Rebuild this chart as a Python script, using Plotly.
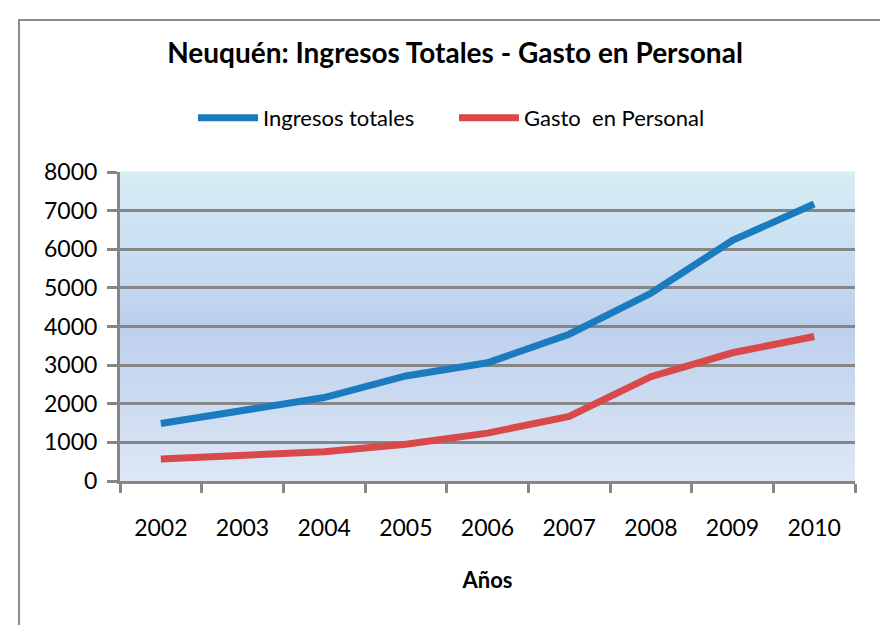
import plotly.graph_objects as go

# data
years = ['2002', '2003', '2004', '2005', '2006', '2007', '2008', '2009', '2010']
ingresos_totales = [1490, 1840, 2160, 2720, 3060, 3800, 4860, 6230, 7170]
gasto_personal = [570, 670, 760, 950, 1240, 1670, 2700, 3320, 3740]

FONT = 'Lato, Calibri, sans-serif'
GRID = '#868686'
W, H = 888, 625
# page body has an 8px margin, so figure pixel = screen pixel - 8
L, R, T, B = 112, 41, 164, 152
PW, PH = W - L - R, H - T - B


def mix(c1, c2, t):
    a = [int(c1[i:i + 2], 16) for i in (1, 3, 5)]
    b = [int(c2[i:i + 2], 16) for i in (1, 3, 5)]
    return 'rgb(%d,%d,%d)' % tuple(round(a[k] + (b[k] - a[k]) * t) for k in range(3))


def gradient_shapes(n=60):
    # vertical gradient for the plot area: light at bottom, blue in the middle, cyan at top
    bottom, middle, top = '#dee8f5', '#bccfed', '#d7eef4'
    shapes = []
    for i in range(n):
        t = (i + 0.5) / n
        col = mix(bottom, middle, t * 2) if t < 0.5 else mix(middle, top, (t - 0.5) * 2)
        shapes.append(dict(type='rect', xref='x domain', yref='y domain',
                           x0=0, x1=1, y0=i / n, y1=(i + 1) / n + 0.002,
                           fillcolor=col, line_width=0, layer='below'))
    return shapes


fig = go.Figure()
fig.add_trace(go.Scatter(x=years, y=ingresos_totales, mode='lines', name='Ingresos totales',
                         line=dict(color='#1a7cbf', width=7)))
fig.add_trace(go.Scatter(x=years, y=gasto_personal, mode='lines', name='Gasto  en Personal',
                         line=dict(color='#d9494a', width=7)))

shapes = gradient_shapes()
# outer chart border (screen x 19..884, top y 20, runs off the bottom)
shapes.append(dict(type='rect', xref='paper', yref='paper',
                   x0=(11 - L) / PW, x1=(876 - L) / PW,
                   y0=-(H + 20 - (T + PH)) / PH, y1=(T + PH - 12) / PH,
                   line=dict(color='#8c8c8c', width=2), fillcolor='rgba(0,0,0,0)', layer='above'))

fig.update_layout(
    width=W, height=H,
    margin=dict(l=L, r=R, t=T, b=B),
    paper_bgcolor='white', plot_bgcolor='rgba(0,0,0,0)',
    font=dict(family=FONT, size=23, color='black'),
    title=dict(text='<b>Neuquén: Ingresos Totales - Gasto en Personal</b>',
               x=447 / W, xanchor='center', xref='container',
               y=1 - 45 / H, yanchor='middle', yref='container',
               font=dict(family=FONT, size=28, color='black')),
    legend=dict(orientation='h', xref='container', yref='container',
                x=185 / W, xanchor='left', y=1 - 110 / H, yanchor='middle',
                font=dict(family=FONT, size=22), itemwidth=60, entrywidth=186,
                bgcolor='rgba(0,0,0,0)'),
    shapes=shapes,
)

fig.update_xaxes(type='category', range=[-0.5, 8.5], tickson='boundaries',
                 ticks='outside', ticklen=9, tickwidth=3, tickcolor=GRID,
                 showline=True, linewidth=3, linecolor=GRID, showgrid=False,
                 ticklabelstandoff=24,
                 title=dict(text='<b>Años</b>', font=dict(family=FONT, size=22), standoff=34))
fig.update_yaxes(range=[0, 8000], dtick=1000, ticks='outside', ticklen=10, tickwidth=3,
                 tickcolor=GRID, showline=True, linewidth=3, linecolor=GRID,
                 showgrid=True, gridcolor=GRID, gridwidth=3, zeroline=False,
                 ticklabelstandoff=5)

fig.write_html('out.html')
